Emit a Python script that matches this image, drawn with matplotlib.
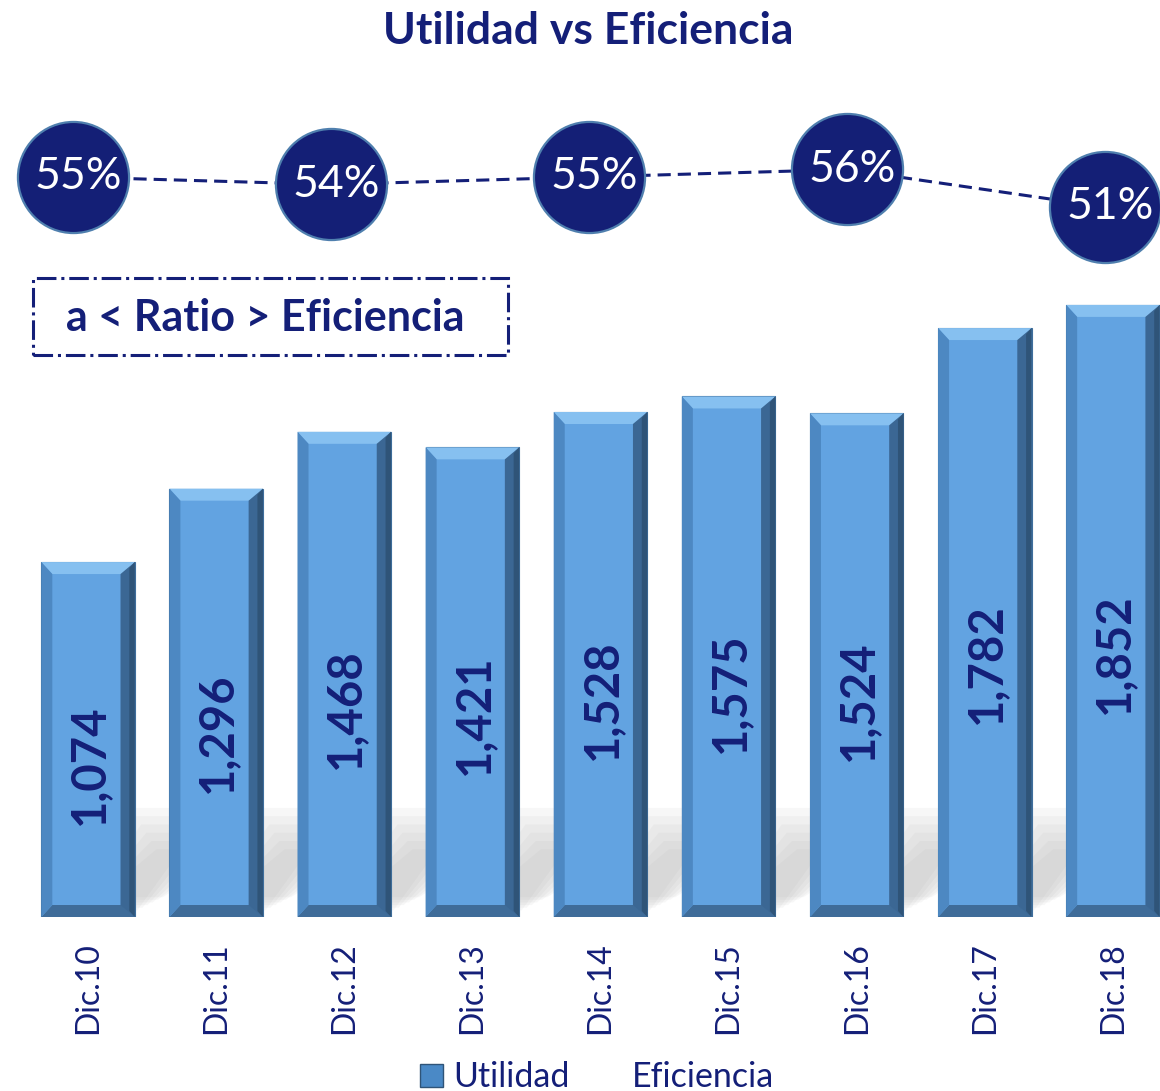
import matplotlib
matplotlib.use('Agg')
import matplotlib.pyplot as plt
from matplotlib.patches import Polygon, Rectangle, Patch
from matplotlib.lines import Line2D

# Data
categories = ['Dic.10', 'Dic.11', 'Dic.12', 'Dic.13', 'Dic.14', 'Dic.15', 'Dic.16', 'Dic.17', 'Dic.18']
utilidad = [1074, 1296, 1468, 1421, 1528, 1575, 1524, 1782, 1852]
eficiencia = [55, 54, 55, 56, 51]
eficiencia_labels = ['55%', '54%', '55%', '56%', '51%']

navy = '#141F78'
plt.rcParams['font.family'] = ['Lato', 'DejaVu Sans']

W, H = 1160, 1091
fig = plt.figure(figsize=(W / 100, H / 100), dpi=100)

# main bar axes (extends a bit past the right edge, like the original)
left = 24 / W
width = (1177 - 24) / W
bottom = (H - 917) / H
height = 661 / H
ax = fig.add_axes([left, bottom, width, height])
ymax = 2000
ax.set_xlim(-0.5, len(categories) - 0.5)
ax.set_ylim(0, ymax)

bar_w = 0.73
px_x = width * W / len(categories)
px_y = height * H / ymax
bx = 11 / px_x
by = 12 / px_y

# soft shadow behind the bars
for i, v in enumerate(utilidad):
    xl, xr = i - bar_w / 2, i + bar_w / 2
    for k in range(6):
        s = k * 0.04
        poly = Polygon([(xl + 0.25 + s, 20 + k * 8), (xr + 0.02 + s, 20 + k * 8),
                        (xr + 0.6 + s, 330 - k * 25), (xl + 0.7 + s, 330 - k * 25)],
                       closed=True, facecolor='#9a9a9a', edgecolor='none', alpha=0.07, zorder=1)
        ax.add_patch(poly)

bars = ax.bar(range(len(categories)), utilidad, width=bar_w, color='#62A3E1',
              edgecolor='#3F6E9C', linewidth=0.8, zorder=2)

# bevel effect
for b in bars:
    xl = b.get_x()
    xr = xl + b.get_width()
    top = b.get_height()
    faces = [
        ([(xl, top), (xr, top), (xr - bx, top - by), (xl + bx, top - by)], '#86C0F0'),
        ([(xl, 0), (xr, 0), (xr - bx, by), (xl + bx, by)], '#3F6C99'),
        ([(xl, 0), (xl + bx, by), (xl + bx, top - by), (xl, top)], '#4D88C2'),
        ([(xr, 0), (xr - bx * 1.3, by), (xr - bx * 1.3, top - by), (xr, top)], '#3B6794'),
        ([(xr, 0), (xr - bx * 0.5, by * 0.5), (xr - bx * 0.5, top - by * 0.5), (xr, top)], '#2F5478'),
    ]
    for pts, c in faces:
        ax.add_patch(Polygon(pts, closed=True, facecolor=c, edgecolor='none', zorder=3))

for i, v in enumerate(utilidad):
    ax.text(i + 0.01, v * 0.43, f'{v:,}', rotation=90, ha='center', va='center',
            fontsize=34, fontweight='bold', color=navy, zorder=5)

ax.set_xticks(range(len(categories)))
ax.set_xticklabels(categories, rotation=90, fontsize=23, color=navy)
ax.tick_params(axis='x', length=0, pad=18)
ax.set_yticks([])
for sp in ax.spines.values():
    sp.set_visible(False)

# efficiency line, in its own strip above the bars
ax2 = fig.add_axes([left, (H - 240) / H, width, 100 / H])
ax2.set_xlim(-0.19, 4.279)
ax2.set_ylim(46.6, 59.93)
ax2.axis('off')
xs = list(range(len(eficiencia)))
ax2.plot(xs, eficiencia, color=navy, lw=2.2, linestyle=(0, (4.3, 2.3)), zorder=2, clip_on=False)
ax2.plot(xs, eficiencia, linestyle='none', marker='o', markersize=80, markerfacecolor='#141F76',
         markeredgecolor='#4F7FAE', markeredgewidth=1.6, zorder=3, clip_on=False)
for x, v, lab in zip(xs, eficiencia, eficiencia_labels):
    ax2.text(x + 0.02, v, lab, ha='center', va='center', fontsize=32, color='white', zorder=4, clip_on=False)

# title
fig.text(0.507, 0.972, 'Utilidad vs Eficiencia', ha='center', va='center',
         fontsize=32, fontweight='bold', color=navy)

# ratio box
fig.add_artist(Rectangle((33 / W, (H - 355) / H), 475 / W, 77 / H, transform=fig.transFigure,
                         facecolor='none', edgecolor=navy, linewidth=2.2, linestyle='-.'))
fig.text(265 / W, (H - 318) / H, 'a < Ratio > Eficiencia', ha='center', va='center',
         fontsize=31, fontweight='bold', color=navy)

# legend
handles = [Patch(facecolor='#4A89C6', edgecolor='#2F5478'),
           Line2D([], [], color='none')]
leg = fig.legend(handles, ['Utilidad', 'Eficiencia'], loc='lower center',
                 bbox_to_anchor=(0.515, -0.03), ncol=2, frameon=False, fontsize=24.5,
                 handlelength=0.65, handleheight=0.65, handletextpad=0.3, columnspacing=0.9)
for t in leg.get_texts():
    t.set_color(navy)

fig.savefig('out.png', dpi=100)
